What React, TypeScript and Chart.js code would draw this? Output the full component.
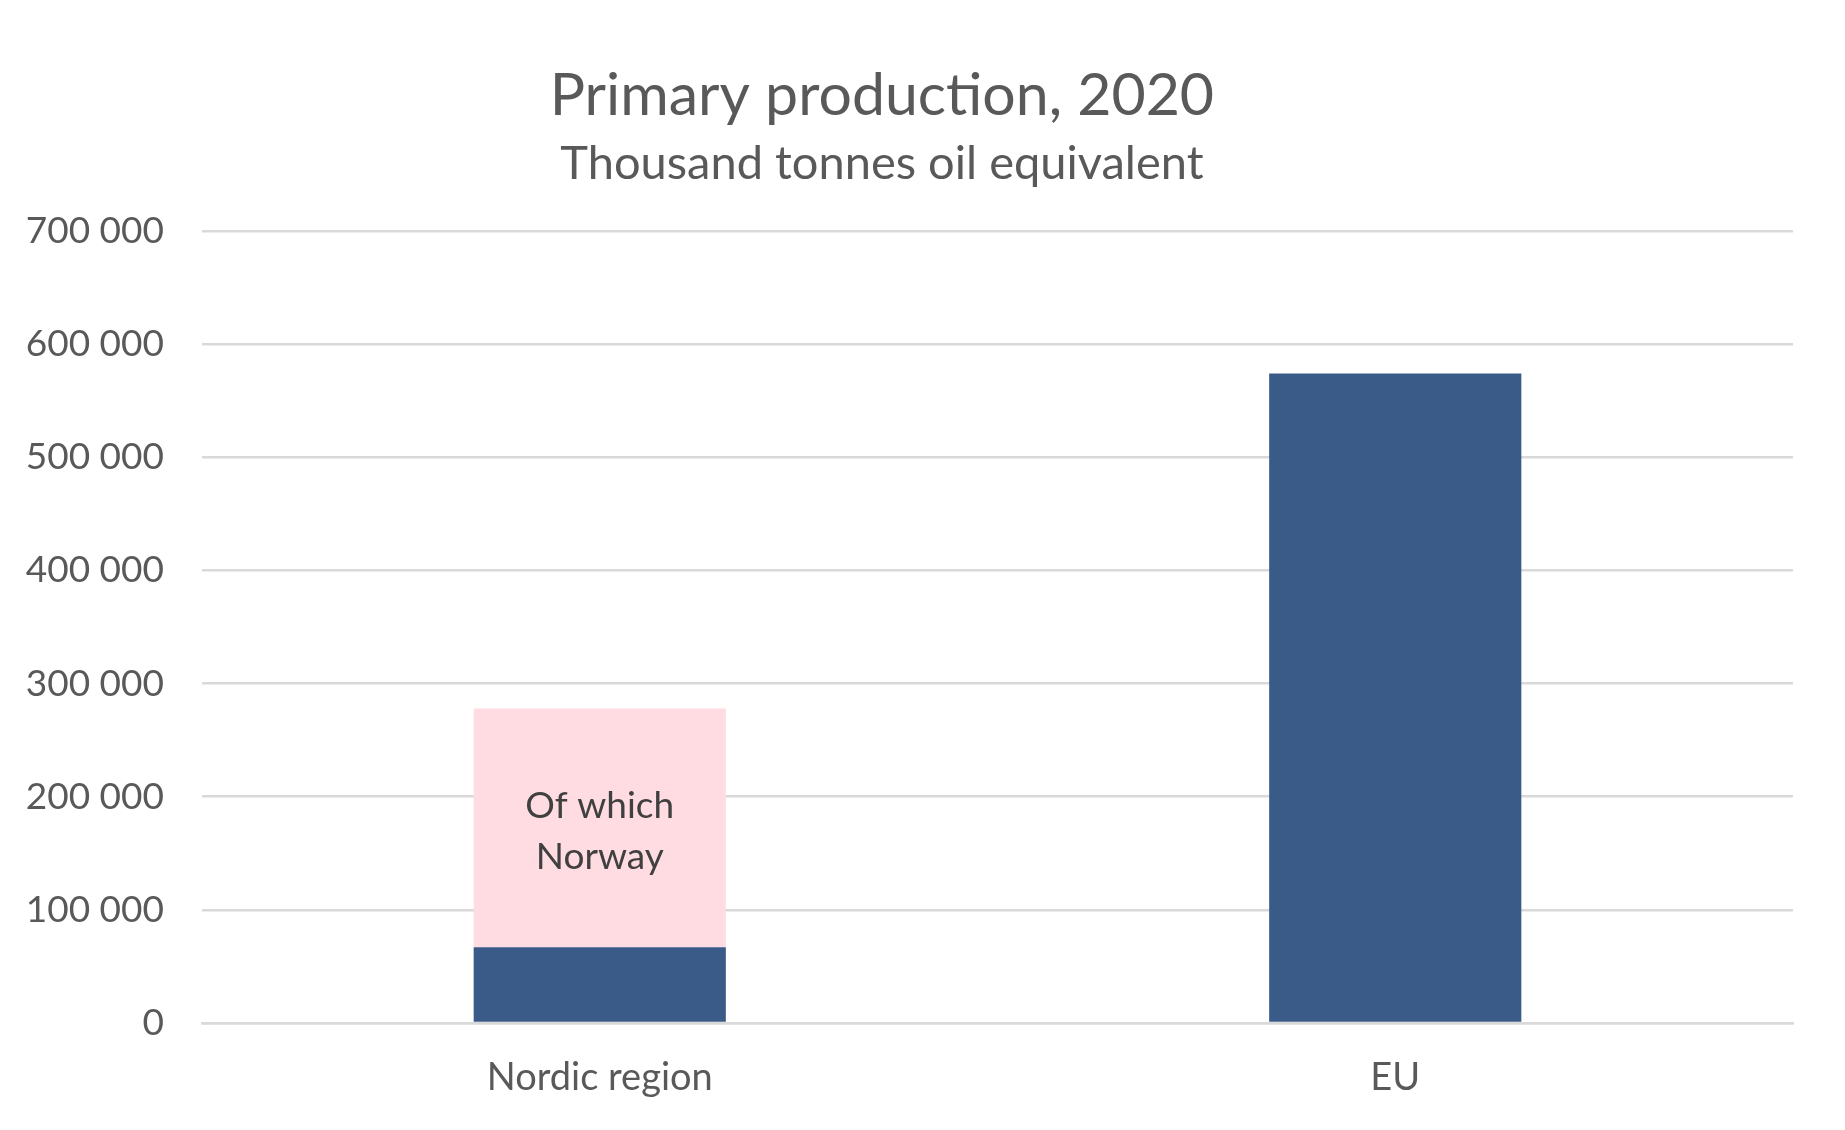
import { useEffect, useRef } from "react";
import { Chart, registerables } from "chart.js";

Chart.register(...registerables);

const categories = ["Nordic region", "EU"];
const baseValues = [67000, 574000];
const norwayValues: (number | null)[] = [211000, null];
const norwayLabelLines = ["Of which", "Norway"];
const yMax = 700000;
const yStep = 100000;
const titleText = "Primary production, 2020";
const subtitleText = "Thousand tonnes oil equivalent";

const FONT = "Lato, 'Open Sans', sans-serif";
const GRAY = "#595959";
const DARK = "#404040";
const BLUE = "#3A5A87";
const PINK = "#FFDBE2";
const GRID = "#D9D9D9";

const fmt = (v: number) => String(v).replace(/\B(?=(\d{3})+(?!\d))/g, " ");

const titlePlugin = {
  id: "customTitles",
  afterDraw(chart: any) {
    const ctx = chart.ctx;
    ctx.save();
    ctx.fillStyle = GRAY;
    ctx.textAlign = "center";
    ctx.textBaseline = "alphabetic";
    const cx = chart.width * 0.478;
    ctx.font = `59px ${FONT}`;
    ctx.fillText(titleText, cx, 115);
    ctx.font = `47px ${FONT}`;
    ctx.fillText(subtitleText, cx, 179);
    ctx.restore();
  },
};

const dataLabelPlugin = {
  id: "norwayLabel",
  afterDatasetsDraw(chart: any) {
    const meta = chart.getDatasetMeta(1);
    const el = meta.data[0];
    if (!el) return;
    const ctx = chart.ctx;
    ctx.save();
    ctx.fillStyle = DARK;
    ctx.textAlign = "center";
    ctx.textBaseline = "middle";
    ctx.font = `37px ${FONT}`;
    const cy = (el.y + el.base) / 2 + 4;
    const lh = 51;
    norwayLabelLines.forEach((line, i) => {
      ctx.fillText(line, el.x, cy + (i - (norwayLabelLines.length - 1) / 2) * lh);
    });
    ctx.restore();
  },
};

export default function App() {
  const ref = useRef<HTMLCanvasElement | null>(null);
  useEffect(() => {
    document.body.style.margin = "0";
    if (!ref.current) return;
    const chart = new Chart(ref.current, {
      type: "bar",
      data: {
        labels: categories,
        datasets: [
          {
            label: "Total",
            data: baseValues,
            backgroundColor: BLUE,
            borderWidth: 0,
            categoryPercentage: 0.317,
            barPercentage: 1,
          },
          {
            label: "Of which Norway",
            data: norwayValues,
            backgroundColor: PINK,
            borderWidth: 0,
            categoryPercentage: 0.317,
            barPercentage: 1,
          },
        ],
      },
      options: {
        animation: false,
        responsive: false,
        maintainAspectRatio: false,
        layout: { padding: { top: 231, right: 52, left: 0, bottom: 0 } },
        plugins: {
          legend: { display: false },
          title: { display: false },
          tooltip: { enabled: false },
        },
        scales: {
          x: {
            stacked: true,
            grid: { display: false, drawTicks: false },
            border: { display: true, color: GRID, width: 2.5 },
            ticks: {
              color: GRAY,
              font: { family: FONT, size: 38 },
              padding: 32,
            },
            afterFit(scale: any) {
              scale.height = 107;
            },
          },
          y: {
            stacked: true,
            min: 0,
            max: yMax,
            grid: { color: GRID, lineWidth: 2.5, drawTicks: false },
            border: { display: false },
            ticks: {
              stepSize: yStep,
              color: GRAY,
              font: { family: FONT, size: 37 },
              padding: 38,
              callback: (v: any) => fmt(Number(v)),
            },
            afterFit(scale: any) {
              scale.width = 202;
            },
          },
        },
      },
      plugins: [titlePlugin, dataLabelPlugin],
    });
    return () => chart.destroy();
  }, []);
  return (
    <div style={{ position: "absolute", left: 0, top: 0, width: 1845, height: 1130 }}>
      <canvas ref={ref} width={1845} height={1130} style={{ width: 1845, height: 1130 }} />
    </div>
  );
}
